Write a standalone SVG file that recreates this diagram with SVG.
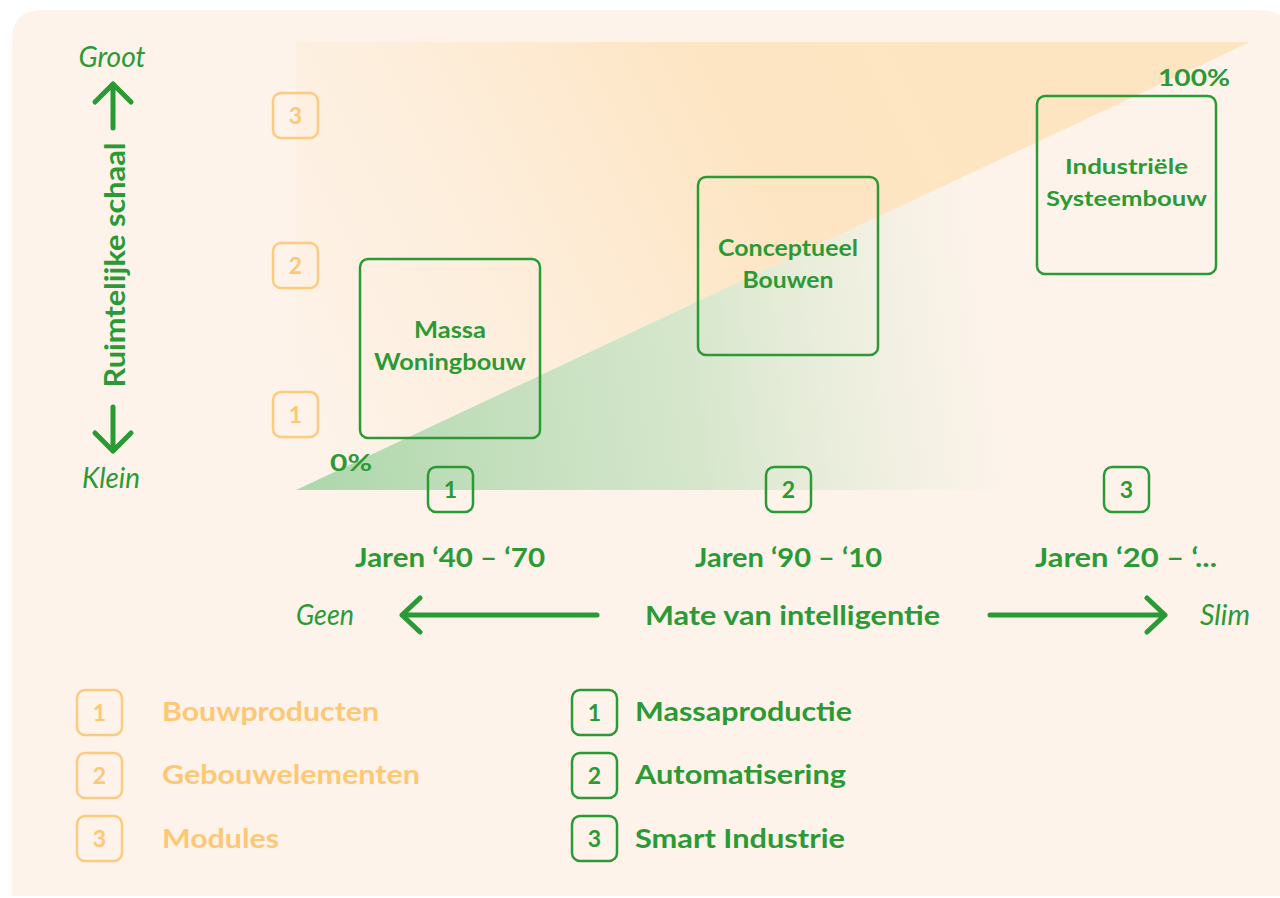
<svg xmlns="http://www.w3.org/2000/svg" width="1280" height="898" viewBox="0 0 1280 898">
  <defs>
    <linearGradient id="gOrange" gradientUnits="userSpaceOnUse" x1="300" y1="430" x2="1020" y2="70">
      <stop offset="0" stop-color="#fde3bd" stop-opacity="0"/>
      <stop offset="0.3" stop-color="#fde3bd" stop-opacity="0.3"/>
      <stop offset="0.65" stop-color="#fde3bd" stop-opacity="0.85"/>
      <stop offset="1" stop-color="#fee5c2" stop-opacity="1"/>
    </linearGradient>
    <linearGradient id="gGreen" gradientUnits="userSpaceOnUse" x1="330" y1="470" x2="1000" y2="380">
      <stop offset="0" stop-color="#b0d8ad" stop-opacity="1"/>
      <stop offset="0.55" stop-color="#c9e2c2" stop-opacity="0.75"/>
      <stop offset="1" stop-color="#d8ead0" stop-opacity="0"/>
    </linearGradient>
    <style>
      .g { fill: #2b9a35; }
      .o { fill: #fdc875; }
      .b { font-family: Lato, "Open Sans", sans-serif; font-weight: 700; }
      .i { font-family: Lato, "Open Sans", sans-serif; font-style: italic; font-weight: 400; }
      .box { fill: none; stroke: #2b9a35; stroke-width: 2.5; }
      .obox { fill: none; stroke: #fdcb80; stroke-width: 2.5; }
      .arrow { fill: none; stroke: #2b9a35; stroke-width: 5; stroke-linecap: round; stroke-linejoin: round; }
      .num { font-family: Lato, "Open Sans", sans-serif; font-weight: 700; font-size: 23px; text-anchor: middle; }
      .mid { text-anchor: middle; }
    </style>
  </defs>

  <rect x="0" y="0" width="1280" height="898" fill="#ffffff"/>
  <path d="M12 40 Q12 10 42 10 L1260 10 Q1290 10 1290 40 L1290 896 L12 896 Z" fill="#fdf3ea"/>

  <!-- background triangles -->
  <g id="field">
    <polygon points="296,42 1250,42 296,490" fill="url(#gOrange)"/>
    <polygon points="296,490 1250,42 1250,490" fill="url(#gGreen)"/>
  </g>

  <!-- vertical axis -->
  <g id="axis-y">
    <text class="i g mid" x="112" y="67" font-size="28" textLength="67" lengthAdjust="spacingAndGlyphs">Groot</text>
    <text class="b g mid" transform="translate(125,265) rotate(-90)" font-size="28" textLength="245" lengthAdjust="spacingAndGlyphs">Ruimtelijke schaal</text>
    <text class="i g mid" x="111" y="488" font-size="28" textLength="58" lengthAdjust="spacingAndGlyphs">Klein</text>
  </g>

  <!-- scale squares -->
  <g id="scale-3"><rect class="obox" x="273" y="93" width="45" height="45" rx="8"/><text class="num o" x="295.5" y="124">3</text></g>
  <g id="scale-2"><rect class="obox" x="273" y="243" width="45" height="45" rx="8"/><text class="num o" x="295.5" y="274">2</text></g>
  <g id="scale-1"><rect class="obox" x="273" y="392" width="45" height="45" rx="8"/><text class="num o" x="295.5" y="423">1</text></g>

  <!-- main nodes -->
  <g id="massa-woningbouw">
    <rect class="box" x="360" y="259" width="180" height="179" rx="8"/>
    <text class="b g mid" x="450" y="338" font-size="23" textLength="72" lengthAdjust="spacingAndGlyphs">Massa</text>
    <text class="b g mid" x="450" y="370" font-size="23" textLength="152" lengthAdjust="spacingAndGlyphs">Woningbouw</text>
  </g>
  <g id="conceptueel-bouwen">
    <rect class="box" x="698" y="177" width="180" height="178" rx="8"/>
    <text class="b g mid" x="788" y="256" font-size="23" textLength="140" lengthAdjust="spacingAndGlyphs">Conceptueel</text>
    <text class="b g mid" x="788" y="288" font-size="23" textLength="91" lengthAdjust="spacingAndGlyphs">Bouwen</text>
  </g>
  <g id="industriele-systeembouw">
    <rect class="box" x="1037" y="96" width="179" height="178" rx="8"/>
    <text class="b g mid" x="1126.5" y="174" font-size="21" textLength="123" lengthAdjust="spacingAndGlyphs">Industriële</text>
    <text class="b g mid" x="1126.5" y="206" font-size="21" textLength="161" lengthAdjust="spacingAndGlyphs">Systeembouw</text>
  </g>

  <g id="pct">
    <text class="b g" x="330" y="471" font-size="22" textLength="42" lengthAdjust="spacingAndGlyphs">0%</text>
    <text class="b g" x="1158" y="86" font-size="22" textLength="72" lengthAdjust="spacingAndGlyphs">100%</text>
  </g>

  <!-- timeline -->
  <g id="era-1">
    <rect class="box" x="428" y="467" width="45" height="45" rx="8"/>
    <text class="num g" x="450.5" y="498">1</text>
    <text class="b g mid" x="450" y="567" font-size="26" textLength="190" lengthAdjust="spacingAndGlyphs">Jaren ‘40 – ‘70</text>
  </g>
  <g id="era-2">
    <rect class="box" x="766" y="467" width="45" height="45" rx="8"/>
    <text class="num g" x="788.5" y="498">2</text>
    <text class="b g mid" x="788.5" y="567" font-size="26" textLength="187" lengthAdjust="spacingAndGlyphs">Jaren ‘90 – ‘10</text>
  </g>
  <g id="era-3">
    <rect class="box" x="1104" y="467" width="45" height="45" rx="8"/>
    <text class="num g" x="1126.5" y="498">3</text>
    <text class="b g mid" x="1126" y="567" font-size="26" textLength="182" lengthAdjust="spacingAndGlyphs">Jaren ‘20 – ‘...</text>
  </g>

  <!-- horizontal axis labels -->
  <g id="axis-x">
    <text class="i g" x="296" y="625" font-size="28" textLength="58" lengthAdjust="spacingAndGlyphs">Geen</text>
    <text class="b g mid" x="792.5" y="625" font-size="27" textLength="295" lengthAdjust="spacingAndGlyphs">Mate van intelligentie</text>
    <text class="i g" x="1200" y="625" font-size="28" textLength="50" lengthAdjust="spacingAndGlyphs">Slim</text>
  </g>

  <!-- connectors / arrows -->
  <g id="connectors">
    <path class="arrow" d="M113 128 L113 84 M95 102 L113 84 L131 102"/>
    <path class="arrow" d="M113 407 L113 451 M95 433 L113 451 L131 433"/>
    <path class="arrow" d="M597 615 L402 615 M420 598 L402 615 L420 632"/>
    <path class="arrow" d="M990 615 L1165 615 M1147 598 L1165 615 L1147 632"/>
  </g>

  <!-- legend -->
  <g id="legend-bouwproducten">
    <rect class="obox" x="77" y="690" width="45" height="45" rx="8"/><text class="num o" x="99.5" y="721">1</text>
    <text class="b o" x="162" y="721" font-size="27" textLength="217" lengthAdjust="spacingAndGlyphs">Bouwproducten</text>
  </g>
  <g id="legend-gebouwelementen">
    <rect class="obox" x="77" y="753" width="45" height="45" rx="8"/><text class="num o" x="99.5" y="784">2</text>
    <text class="b o" x="162" y="784" font-size="27" textLength="258" lengthAdjust="spacingAndGlyphs">Gebouwelementen</text>
  </g>
  <g id="legend-modules">
    <rect class="obox" x="77" y="816" width="45" height="45" rx="8"/><text class="num o" x="99.5" y="847">3</text>
    <text class="b o" x="162" y="848" font-size="27" textLength="117" lengthAdjust="spacingAndGlyphs">Modules</text>
  </g>
  <g id="legend-massaproductie">
    <rect class="box" x="572" y="690" width="45" height="45" rx="8"/><text class="num g" x="594.5" y="721">1</text>
    <text class="b g" x="635" y="721" font-size="27" textLength="217" lengthAdjust="spacingAndGlyphs">Massaproductie</text>
  </g>
  <g id="legend-automatisering">
    <rect class="box" x="572" y="753" width="45" height="45" rx="8"/><text class="num g" x="594.5" y="784">2</text>
    <text class="b g" x="635" y="784" font-size="27" textLength="211" lengthAdjust="spacingAndGlyphs">Automatisering</text>
  </g>
  <g id="legend-smart-industrie">
    <rect class="box" x="572" y="816" width="45" height="45" rx="8"/><text class="num g" x="594.5" y="847">3</text>
    <text class="b g" x="635" y="848" font-size="27" textLength="210" lengthAdjust="spacingAndGlyphs">Smart Industrie</text>
  </g>
</svg>
